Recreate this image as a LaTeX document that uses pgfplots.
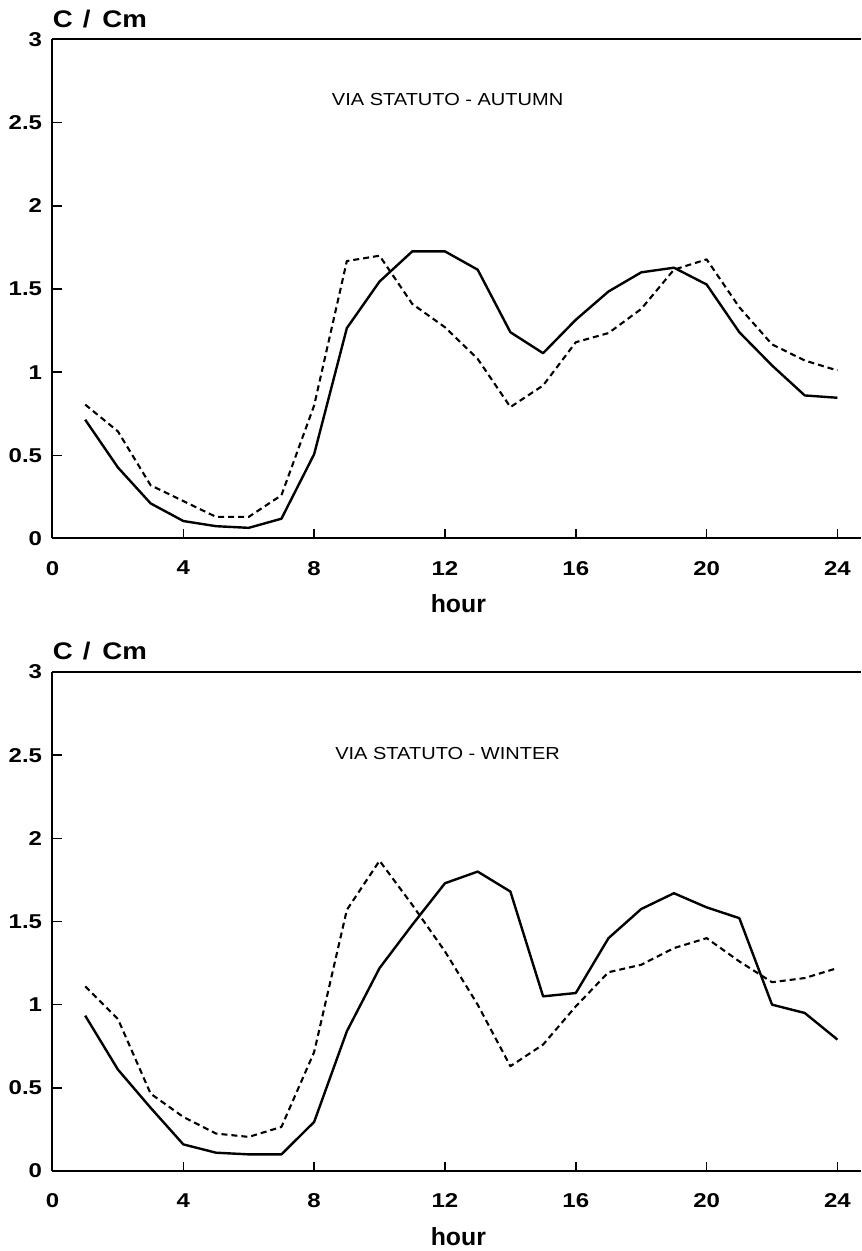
\documentclass[border=0pt]{standalone}
\usepackage{fontspec}
\setmainfont{Liberation Sans}
\newfontfamily\stretched[FakeStretch=1.2]{Liberation Sans}
\newfontfamily\stretchedb[FakeStretch=1.15]{Liberation Sans}
\usepackage{pgfplots}
\usepackage{pgfplotstable}
\pgfplotsset{compat=1.18}

\pgfplotstableread{
h solid dashed
1 0.714 0.805
2 0.427 0.644
3 0.211 0.320
4 0.105 0.225
5 0.074 0.130
6 0.064 0.130
7 0.119 0.260
8 0.507 0.800
9 1.265 1.668
10 1.545 1.700
11 1.726 1.410
12 1.726 1.270
13 1.616 1.080
14 1.240 0.790
15 1.114 0.920
16 1.315 1.180
17 1.485 1.235
18 1.600 1.380
19 1.628 1.616
20 1.527 1.678
21 1.240 1.390
22 1.040 1.167
23 0.860 1.070
24 0.846 1.010
}\autumn

\pgfplotstableread{
h solid dashed
1 0.934 1.110
2 0.610 0.914
3 0.380 0.465
4 0.160 0.325
5 0.110 0.225
6 0.100 0.205
7 0.100 0.265
8 0.295 0.715
9 0.840 1.570
10 1.220 1.865
11 1.480 1.600
12 1.730 1.320
13 1.800 1.000
14 1.680 0.630
15 1.050 0.760
16 1.070 0.990
17 1.400 1.195
18 1.575 1.240
19 1.670 1.340
20 1.585 1.400
21 1.520 1.260
22 1.000 1.135
23 0.950 1.160
24 0.790 1.220
}\winter

\pgfplotsset{
  myaxis/.style={
    scale only axis, width=404.25pt, height=249.5pt,
    xmin=0, xmax=24.72, ymin=0, ymax=3,
    axis x line*=bottom, axis y line*=left,
    axis line style={line width=1pt,-},
    xtick={0,4,8,12,16,20,24},
    ytick={0,0.5,1,1.5,2,2.5,3},
    tick align=inside,
    major tick length=4.5pt,
    tick style={line width=0.8pt,black},
    /pgf/number format/assume math mode=true,
    ticklabel style={font=\stretched\bfseries\fontsize{10}{11}\selectfont},
    xticklabel style={yshift=-7.8pt},
    yticklabel style={xshift=-1.7pt},
    ylabel={C\hspace{5pt}/\hspace{6pt}Cm},
    every axis y label/.style={at={(rel axis cs:0,1)},anchor=base west,yshift=6.15pt,inner sep=0pt,
      font=\stretchedb\bfseries\fontsize{12}{13}\selectfont},
    xlabel={hour},
    every axis x label/.style={at={(rel axis cs:0.502,0)},anchor=base,yshift=-37.1pt,inner sep=0pt,
      font=\bfseries\fontsize{12.4}{14}\selectfont},
    clip=false,
  },
  solidline/.style={black, line width=1.2pt, line join=round},
  dashline/.style={black, line width=1.05pt, dash pattern=on 3pt off 2pt, line join=round},
}

\begin{document}
\begin{tikzpicture}
\useasboundingbox (-26.25pt,-40pt) rectangle (404.25pt,585.5pt);
\begin{axis}[myaxis, at={(0pt,316.25pt)}, anchor=south west]
  \addplot[solidline] table[x=h,y=solid] {\autumn};
  \addplot[dashline] table[x=h,y=dashed] {\autumn};
  \draw[line width=1pt] (rel axis cs:0,1) -- (rel axis cs:1,1);
  \node[font=\stretchedb\fontsize{8.7}{10}\selectfont] at (axis cs:12.08,2.64) {VIA STATUTO - AUTUMN};
\end{axis}
\begin{axis}[myaxis, at={(0pt,0pt)}, anchor=south west]
  \addplot[solidline] table[x=h,y=solid] {\winter};
  \addplot[dashline] table[x=h,y=dashed] {\winter};
  \draw[line width=1pt] (rel axis cs:0,1) -- (rel axis cs:1,1);
  \node[font=\stretchedb\fontsize{8.7}{10}\selectfont] at (axis cs:12.08,2.51) {VIA STATUTO - WINTER};
\end{axis}
\end{tikzpicture}
\end{document}
